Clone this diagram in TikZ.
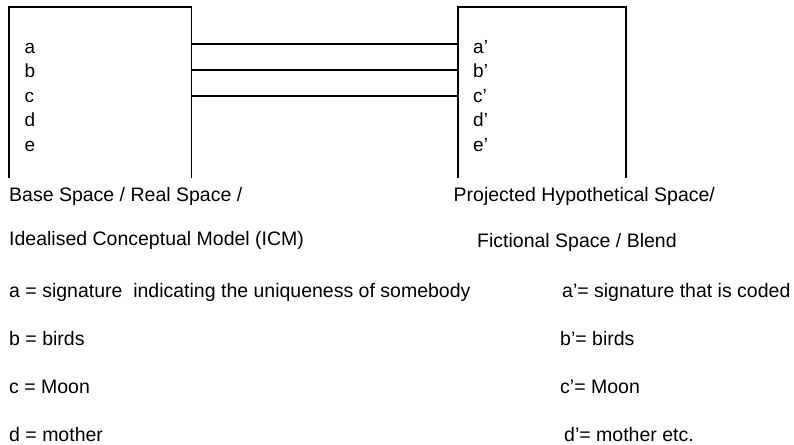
\documentclass[tikz,border=0pt]{standalone}
\usepackage{fontspec}
\setmainfont{Liberation Sans}
\begin{document}
\begin{tikzpicture}[x=1pt,y=-1pt,
  frame/.style={line width=1.3pt, line cap=butt},
  link/.style={line width=1.3pt},
  letter/.style={anchor=base west, inner sep=0pt, font=\fontsize{19}{22}\selectfont},
  txt/.style={anchor=base west, inner sep=0pt, font=\fontsize{19.5}{23}\selectfont}]
\useasboundingbox (0,0) rectangle (794,444);
% left box
\coordinate (L1) at (9,178); \coordinate (L2) at (9,7);
\coordinate (L3) at (191.5,7); \coordinate (L4) at (191.5,178);
\draw[frame] (L1) -- (L2) -- (L3) -- (L4);
% right box
\coordinate (R1) at (458,178); \coordinate (R2) at (458,7);
\coordinate (R3) at (626,7); \coordinate (R4) at (626,178);
\draw[frame] (R1) -- (R2) -- (R3) -- (R4);
% connectors
\coordinate (la) at (191.5,44); \coordinate (ra) at (458,44);
\coordinate (lb) at (191.5,70); \coordinate (rb) at (458,70);
\coordinate (lc) at (191.5,96); \coordinate (rc) at (458,96);
\draw[link] (la) -- (ra);
\draw[link] (lb) -- (rb);
\draw[link] (lc) -- (rc);
% letters
\node[letter] (a) at (24.5,53) {a};
\node[letter] (b) at (24.5,77.5) {b};
\node[letter] (c) at (24.5,102) {c};
\node[letter] (d) at (24.5,126.5) {d};
\node[letter] (e) at (24.5,151) {e};
\node[letter] (a2) at (473,53) {a’};
\node[letter] (b2) at (473,77.5) {b’};
\node[letter] (c2) at (473,102) {c’};
\node[letter] (d2) at (473,126.5) {d’};
\node[letter] (e2) at (473,151) {e’};
% labels
\node[txt] (base) at (9,201) {Base Space / Real Space /};
\node[txt] (icm) at (9,245) {Idealised Conceptual Model (ICM)};
\node[txt] (proj) at (453.5,201) {Projected Hypothetical Space/};
\node[txt] (fict) at (477,247) {Fictional Space / Blend};
\node[txt] (da) at (9,297) {a = signature \ indicating the uniqueness of somebody};
\node[txt] (db) at (9,345) {b = birds};
\node[txt] (dc) at (9,393) {c = Moon};
\node[txt] (dd) at (9,441) {d = mother};
\node[txt] (pa) at (562,297) {a’= signature that is coded};
\node[txt] (pb) at (560,345) {b’= birds};
\node[txt] (pc) at (560,393) {c’= Moon};
\node[txt] (pd) at (564,441) {d’= mother etc.};
\end{tikzpicture}
\end{document}
